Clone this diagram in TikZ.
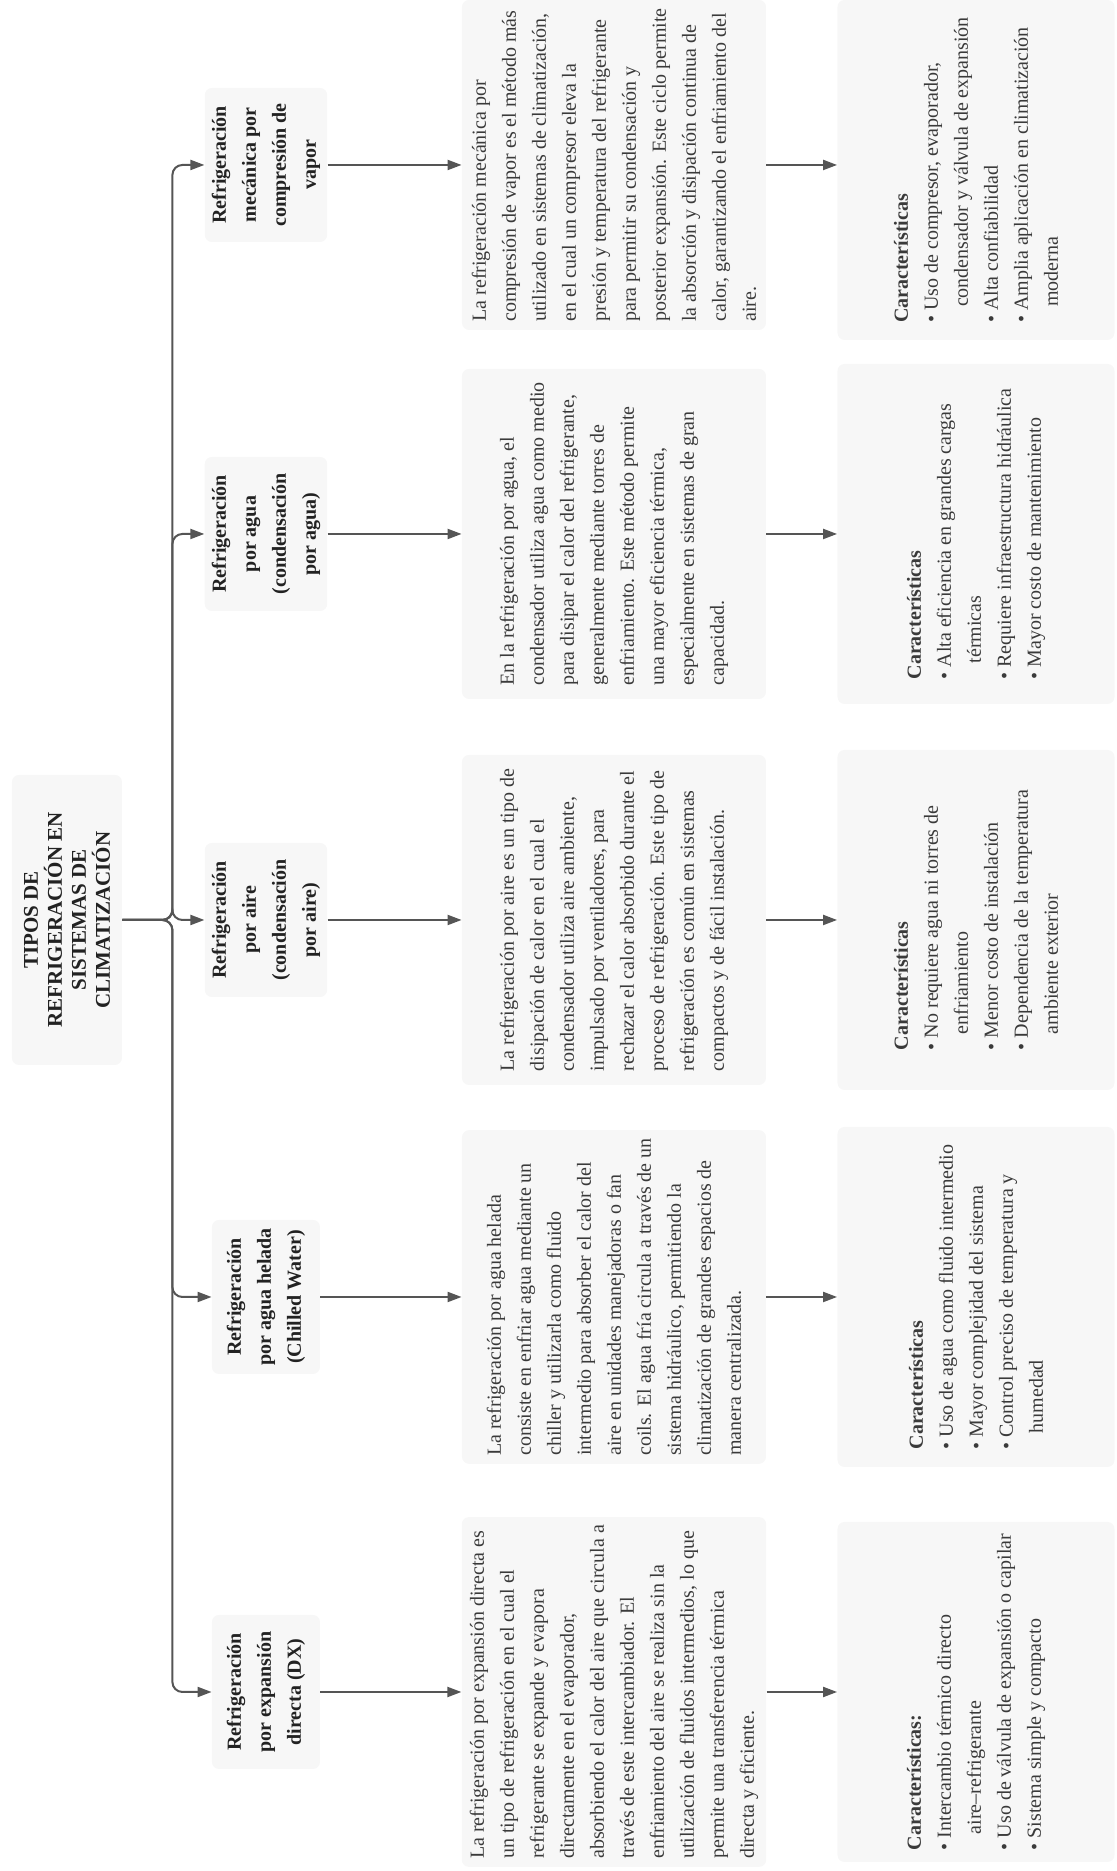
\documentclass[tikz,border=0pt]{standalone}
\usepackage{fontspec}
\setmainfont{Liberation Serif}
\usetikzlibrary{arrows.meta}
\definecolor{boxGray}{HTML}{F7F7F7}
\definecolor{linkGray}{HTML}{555555}
\definecolor{bodyGray}{HTML}{3A3A3A}
\definecolor{titleGray}{HTML}{222222}

\tikzset{
  basebox/.style={fill=boxGray, rounded corners=3.5pt, inner sep=4pt, align=left,
    text=bodyGray, font=\fontsize{10}{15}\selectfont},
  rootbox/.style={basebox, align=center, text=titleGray,
    font=\bfseries\fontsize{10.5}{12}\selectfont, minimum width=145pt, minimum height=55pt},
  typebox/.style={basebox, align=center, text=titleGray, inner sep=3.5pt,
    font=\bfseries\fontsize{10}{15}\selectfont, minimum width=77pt, minimum height=54pt},
  descbox/.style={basebox, minimum width=165pt, minimum height=152pt},
  featbox/.style={basebox, minimum width=170pt, minimum height=138.5pt},
  link/.style={draw=linkGray, line width=1pt, rounded corners=5pt,
    -{Triangle[length=7pt,width=5pt]}}
}
\newcommand{\featitem}{\textbullet~}
\newcommand{\featcont}{\hspace*{0.8em}}

\begin{document}
\begin{tikzpicture}
\begin{scope}[rotate=90, transform shape, x=0.5pt, y=0.5pt]
  \useasboundingbox (0,0) rectangle (1871,1117);

  \node[rootbox] (root) at (951,1050) {TIPOS DE\\REFRIGERACIÓN EN\\SISTEMAS DE\\CLIMATIZACIÓN};

  % tipos
  \node[typebox] (k1) at (1706,851) {Refrigeración\\mecánica por\\compresión de\\vapor};
  \node[typebox] (k2) at (1337,851) {Refrigeración\\por agua\\(condensación\\por agua)};
  \node[typebox] (k3) at (951,851) {Refrigeración\\por aire\\(condensación\\por aire)};
  \node[typebox] (k4) at (574,851) {Refrigeración\\por agua helada\\(Chilled Water)};
  \node[typebox] (k5) at (179,851) {Refrigeración\\por expansión\\directa (DX)};

  % descripciones
  \node[descbox] (t1) at (1706,503) {La refrigeración mecánica por\\compresión de vapor es el método más\\utilizado en sistemas de climatización,\\en el cual un compresor eleva la\\presión y temperatura del refrigerante\\para permitir su condensación y\\posterior expansión. Este ciclo permite\\la absorción y disipación continua de\\calor, garantizando el enfriamiento del\\aire.};
  \node[descbox] (t2) at (1337,503) {En la refrigeración por agua, el\\condensador utiliza agua como medio\\para disipar el calor del refrigerante,\\generalmente mediante torres de\\enfriamiento. Este método permite\\una mayor eficiencia térmica,\\especialmente en sistemas de gran\\capacidad.};
  \node[descbox] (t3) at (951,503) {La refrigeración por aire es un tipo de\\disipación de calor en el cual el\\condensador utiliza aire ambiente,\\impulsado por ventiladores, para\\rechazar el calor absorbido durante el\\proceso de refrigeración. Este tipo de\\refrigeración es común en sistemas\\compactos y de fácil instalación.};
  \node[descbox] (t4) at (574,503) {La refrigeración por agua helada\\consiste en enfriar agua mediante un\\chiller y utilizarla como fluido\\intermedio para absorber el calor del\\aire en unidades manejadoras o fan\\coils. El agua fría circula a través de un\\sistema hidráulico, permitiendo la\\climatización de grandes espacios de\\manera centralizada.};
  \node[descbox, minimum width=174pt] (t5) at (179,503) {La refrigeración por expansión directa es\\un tipo de refrigeración en el cual el\\refrigerante se expande y evapora\\directamente en el evaporador,\\absorbiendo el calor del aire que circula a\\través de este intercambiador. El\\enfriamiento del aire se realiza sin la\\utilización de fluidos intermedios, lo que\\permite una transferencia térmica\\directa y eficiente.};

  % caracteristicas
  \node[featbox] (c1) at (1701,141) {\textbf{Características}\\\featitem Uso de compresor, evaporador,\\\featcont condensador y válvula de expansión\\\featitem Alta confiabilidad\\\featitem Amplia aplicación en climatización\\\featcont moderna};
  \node[featbox] (c2) at (1337,141) {\textbf{Características}\\\featitem Alta eficiencia en grandes cargas\\\featcont térmicas\\\featitem Requiere infraestructura hidráulica\\\featitem Mayor costo de mantenimiento};
  \node[featbox] (c3) at (951,141) {\textbf{Características}\\\featitem No requiere agua ni torres de\\\featcont enfriamiento\\\featitem Menor costo de instalación\\\featitem Dependencia de la temperatura\\\featcont ambiente exterior};
  \node[featbox] (c4) at (574,141) {\textbf{Características}\\\featitem Uso de agua como fluido intermedio\\\featitem Mayor complejidad del sistema\\\featitem Control preciso de temperatura y\\\featcont humedad};
  \node[featbox] (c5) at (179,141) {\textbf{Características:}\\\featitem Intercambio térmico directo\\\featcont aire–refrigerante\\\featitem Uso de válvula de expansión o capilar\\\featitem Sistema simple y compacto};

  \foreach \i in {1,...,5} {
    \draw[link] (root.south) -- ++(0,-50) -| (k\i.north);
    \draw[link] (k\i.south) -- (t\i.north);
    \draw[link] (t\i.south) -- (t\i.south |- c\i.north);
  }
\end{scope}
\end{tikzpicture}
\end{document}
